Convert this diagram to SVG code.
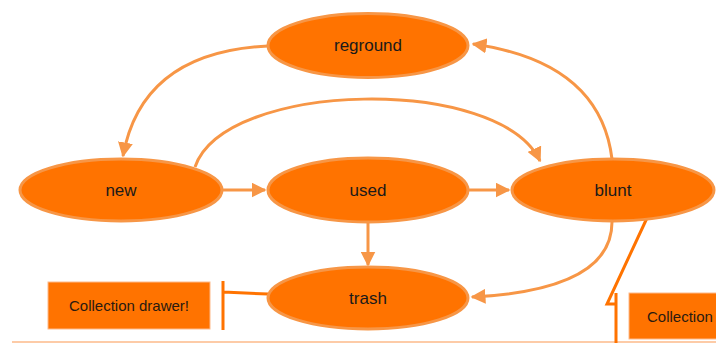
<svg xmlns="http://www.w3.org/2000/svg" width="716" height="343" viewBox="0 0 716 343">
<defs>
<style>
.node{fill:#FF7300;stroke:#F79646;stroke-width:3}
.lbl{font-family:"Liberation Sans",Arial,sans-serif;font-size:17px;fill:#1a1a1a;text-anchor:middle;dominant-baseline:central}
.box{fill:#FF7300;stroke:#FDBA8A;stroke-width:1}
.btxt{font-family:"Liberation Sans",Arial,sans-serif;font-size:15px;fill:#2a1a10;dominant-baseline:central}
.edge{fill:none;stroke:#F79646;stroke-width:3}
.brk{fill:none;stroke:#FF7300;stroke-width:3}
</style>
<marker id="arr" viewBox="0 0 10 10" refX="9" refY="5" markerWidth="5" markerHeight="5" orient="auto" markerUnits="strokeWidth">
<path d="M0,0 L10,5 L0,10 z" fill="#F79646"/>
</marker>
</defs>
<rect width="716" height="343" fill="#ffffff"/>
<line x1="12" y1="342" x2="716" y2="342" stroke="#FDBA8A" stroke-width="1.5"/>
<g id="connectors">
<path class="edge" d="M268,46 Q142,52 123,156" marker-end="url(#arr)"/>
<path class="edge" d="M612,159 Q600,62 473,44" marker-end="url(#arr)"/>
<path class="edge" d="M195,167 C225,80 500,75 540,161" marker-end="url(#arr)"/>
<path class="edge" d="M222,190 L265,190" marker-end="url(#arr)"/>
<path class="edge" d="M468,190 L509,190" marker-end="url(#arr)"/>
<path class="edge" d="M368,222 L368,265" marker-end="url(#arr)"/>
<path class="edge" d="M612,222 Q612,290 472,297" marker-end="url(#arr)"/>
<path class="brk" d="M268,294 L223,292 M223,281 L223,330"/>
<path class="brk" d="M647,218 L607,304 L616,304 M616,293 L616,343"/>
</g>
<g id="reground"><ellipse class="node" cx="368" cy="45.5" rx="100" ry="32"/><text class="lbl" x="368" y="45.5">reground</text></g>
<g id="new"><ellipse class="node" cx="121" cy="190" rx="101" ry="31"/><text class="lbl" x="121" y="190">new</text></g>
<g id="used"><ellipse class="node" cx="368" cy="190" rx="100" ry="32"/><text class="lbl" x="368" y="190">used</text></g>
<g id="blunt"><ellipse class="node" cx="613" cy="190" rx="101" ry="31"/><text class="lbl" x="613" y="190">blunt</text></g>
<g id="trash"><ellipse class="node" cx="368" cy="298" rx="100" ry="31"/><text class="lbl" x="368" y="298">trash</text></g>
<g id="drawer-left"><rect class="box" x="48" y="282" width="162" height="47"/><text class="btxt" x="129" y="305.5" text-anchor="middle">Collection drawer!</text></g>
<g id="drawer-right"><rect class="box" x="629" y="293" width="100" height="46"/><text class="btxt" x="647" y="316">Collection</text></g>
</svg>
